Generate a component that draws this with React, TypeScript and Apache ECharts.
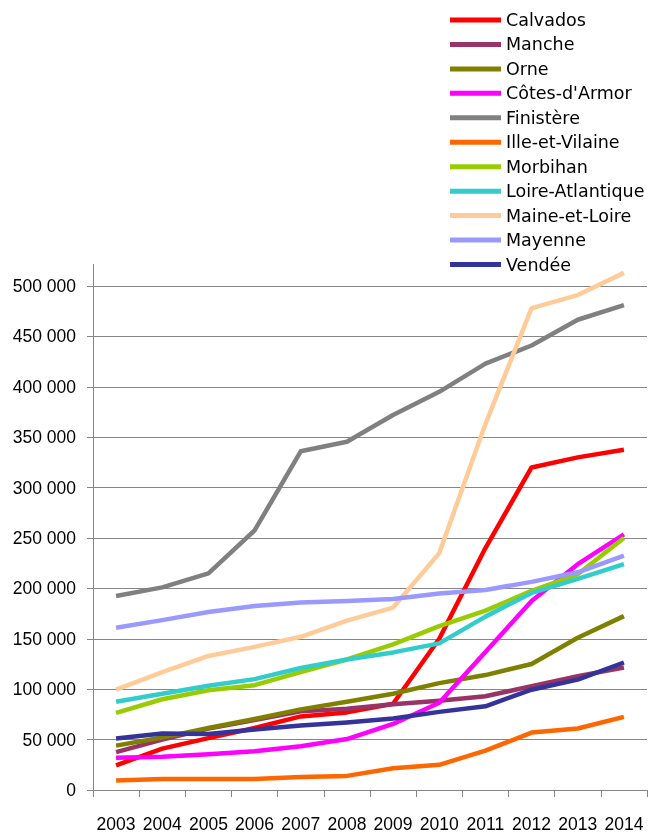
import React, { useEffect, useRef } from "react";
import * as echarts from "echarts";

const years = ["2003", "2004", "2005", "2006", "2007", "2008", "2009", "2010", "2011", "2012", "2013", "2014"];

const calvados = [24500, 41000, 51500, 61500, 73000, 77000, 85500, 150000, 240000, 320000, 330000, 337500];
const manche = [37500, 50000, 61000, 69500, 78000, 80500, 85000, 88500, 93000, 103000, 113000, 121500];
const orne = [44000, 52000, 61500, 70500, 80000, 87500, 95500, 106000, 114000, 125000, 151000, 172500];
const cotesArmor = [32000, 33000, 35500, 38500, 43500, 50500, 65500, 86500, 137000, 187500, 224000, 253500];
const finistere = [192500, 201000, 215000, 257500, 336000, 345500, 372000, 395000, 423000, 441000, 466500, 481000];
const illeVilaine = [9500, 11000, 11000, 11000, 13000, 14000, 21500, 25000, 39000, 57000, 61000, 72500];
const morbihan = [76500, 90000, 99000, 104000, 117000, 129500, 144500, 162500, 178000, 197500, 214000, 250000];
const loireAtlantique = [87500, 95500, 103500, 110000, 121000, 129500, 136500, 145500, 172000, 195500, 209500, 224000];
const maineLoire = [99500, 117000, 133000, 142000, 152000, 168000, 181000, 235000, 363000, 478000, 491000, 513000];
const mayenne = [161000, 168500, 176500, 182500, 186000, 187500, 189500, 195000, 198500, 206500, 216000, 232500];
const vendee = [51000, 56000, 55500, 60000, 64000, 67000, 71000, 77500, 83000, 99500, 109500, 126500];

const seriesNames = [
  "Calvados", "Manche", "Orne", "Côtes-d'Armor", "Finistère", "Ille-et-Vilaine",
  "Morbihan", "Loire-Atlantique", "Maine-et-Loire", "Mayenne", "Vendée",
];
const seriesData = [
  calvados, manche, orne, cotesArmor, finistere, illeVilaine,
  morbihan, loireAtlantique, maineLoire, mayenne, vendee,
];
const seriesColors = [
  "#FF0000", "#993366", "#808000", "#FF00FF", "#808080", "#FF6600",
  "#99CC00", "#33CCCC", "#FFCC99", "#9999FF", "#333399",
];

const yTicks = [0, 50000, 100000, 150000, 200000, 250000, 300000, 350000, 400000, 450000, 500000];

const fmt = (v: number) => {
  const s = String(Math.round(v));
  return s.replace(/\B(?=(\d{3})+(?!\d))/g, " ");
};

export default function App() {
  const ref = useRef<HTMLDivElement>(null);
  useEffect(() => {
    if (!ref.current) return;
    const chart = echarts.init(ref.current, null, { renderer: "svg" });
    const axisColor = "#868686";
    chart.setOption({
      animation: false,
      grid: { left: 93, right: 8, top: 286, bottom: 44, containLabel: false },
      legend: {
        orient: "vertical",
        left: 445,
        top: 5,
        icon: "rect",
        itemWidth: 51,
        itemHeight: 5,
        itemGap: 4.45,
        selectedMode: false,
        data: seriesNames,
        textStyle: {
          fontFamily: "DejaVu Sans",
          fontSize: 17.5,
          color: "#000",
          lineHeight: 20,
        },
      },
      xAxis: {
        type: "category",
        data: years,
        boundaryGap: true,
        axisLine: { show: true, lineStyle: { color: axisColor, width: 1 } },
        axisTick: { show: true, length: 7, lineStyle: { color: axisColor } },
        axisLabel: {
          interval: 0,
          margin: 25,
          fontFamily: "Liberation Sans",
          fontSize: 17.5,
          color: "#000",
        },
        splitLine: { show: false },
      },
      yAxis: {
        type: "value",
        min: yTicks[0],
        max: yTicks[yTicks.length - 1],
        interval: 50000,
        axisLine: { show: true, lineStyle: { color: axisColor, width: 1 } },
        axisTick: { show: true, length: 6, lineStyle: { color: axisColor } },
        axisLabel: {
          margin: 17,
          fontFamily: "Liberation Sans",
          fontSize: 17.5,
          color: "#000",
          formatter: (v: number) => fmt(v),
        },
        splitLine: { show: true, lineStyle: { color: axisColor, width: 1 } },
      },
      graphic: [
        {
          type: "line",
          shape: { x1: 93.5, y1: 264, x2: 93.5, y2: 286 },
          style: { stroke: axisColor, lineWidth: 1 },
        },
      ],
      series: seriesNames.map((name, i) => ({
        name,
        type: "line",
        data: seriesData[i],
        symbol: "none",
        clip: false,
        color: seriesColors[i],
        itemStyle: { color: seriesColors[i] },
        lineStyle: { color: seriesColors[i], width: 4.5, join: "round" },
        z: 2 + i,
      })),
    });
    return () => chart.dispose();
  }, []);
  return (
    <div
      ref={ref}
      style={{ position: "fixed", left: 0, top: 0, width: 655, height: 834 }}
    />
  );
}
